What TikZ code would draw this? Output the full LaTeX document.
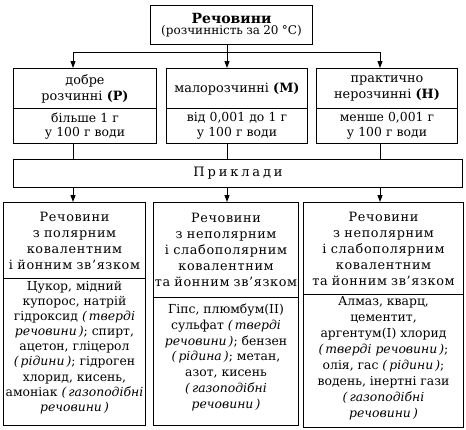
\documentclass[tikz,border=0pt]{standalone}
\usepackage{fontspec}
\setmainfont{DejaVu Serif}
\usetikzlibrary{arrows.meta}
\begin{document}
\begin{tikzpicture}[x=1pt,y=-1pt,
  box/.style={draw, line width=1pt, anchor=north west, inner xsep=1pt, inner ysep=0pt, align=center},
  big/.style={font=\fontsize{12.8}{16}\selectfont},
  head/.style={font=\fontsize{12.8}{16}\selectfont\addfontfeature{LetterSpace=5}},
  small/.style={font=\fontsize{12.4}{14.5}\selectfont},
  body/.style={font=\fontsize{12.4}{#1}\selectfont, align=center, inner sep=0pt, anchor=north},
  link/.style={line width=1pt},
  arr/.style={line width=1pt, -{Triangle[length=7pt,width=5pt]}}
]
\useasboundingbox (0,0) rectangle (466,429);
% top
\node[box, minimum width=162pt, text width=160pt, minimum height=39pt] (top) at (150,5)
  {{\fontsize{14}{16}\selectfont\bfseries Речовини}\\[-1pt]{\fontsize{12}{14}\selectfont (розчинність за 20~°C)}};
% middle row
\node[box, big, minimum width=143pt, text width=141pt, minimum height=40pt] (h1) at (13,68) {добре\\розчинні \textbf{(Р)}};
\node[box, small, minimum width=143pt, text width=141pt, minimum height=35pt] (b1) at (13,108) {більше 1 г\\у 100 г води};
\node[box, big, minimum width=141pt, text width=139pt, minimum height=40pt] (h2) at (166,68) {малорозчинні \textbf{(М)}};
\node[box, small, minimum width=141pt, text width=139pt, minimum height=35pt] (b2) at (166,108) {від 0,001 до 1 г\\у 100 г води};
\node[box, big, minimum width=141pt, text width=139pt, minimum height=40pt] (h3) at (316,68) {практично\\нерозчинні \textbf{(Н)}};
\node[box, small, minimum width=141pt, text width=139pt, minimum height=35pt] (b3) at (316,108) {менше 0,001 г\\у 100 г води};
% examples
\node[box, minimum width=449pt, text width=447pt, minimum height=28pt, font=\fontsize{13}{16}\selectfont\addfontfeature{LetterSpace=22}] (ex) at (13,159)
  {Приклади};
% bottom row
\node[box, head, minimum width=142pt, text width=140pt, minimum height=76pt] (H1) at (3,202)
  {Речовини\\з полярним\\ковалентним\\і йонним зв’язком};
\node[box, minimum width=142pt, text width=140pt, minimum height=147pt] (B1) at (3,278) {};
\node[body=15.1] (T1) at ([yshift=-3pt]B1.north)
  {Цукор, мідний\\купорос, натрій\\гідроксид \textit{(\,тверді}\\\textit{речовини\,)}; спирт,\\ацетон, гліцерол\\\textit{(\,рідини\,)}; гідроген\\хлорид, кисень,\\амоніак \textit{(\,газоподібні}\\\textit{речовини\,)}};
\node[box, head, minimum width=145pt, text width=143pt, minimum height=95pt] (H2) at (153,202)
  {Речовини\\з неполярним\\і слабополярним\\ковалентним\\та йонним зв’язком};
\node[box, minimum width=145pt, text width=143pt, minimum height=128pt] (B2) at (153,297) {};
\node[body=15.7] (T2) at ([yshift=-7pt]B2.north)
  {Гіпс, плюмбум(II)\\сульфат \textit{(\,тверді}\\\textit{речовини\,)}; бензен\\\textit{(\,рідина\,)}; метан,\\азот, кисень\\\textit{(\,газоподібні}\\\textit{речовини\,)}};
\node[box, head, minimum width=160pt, text width=158pt, minimum height=92pt] (H3) at (303,202)
  {Речовини\\з неполярним\\і слабополярним\\ковалентним\\та йонним зв’язком};
\node[box, minimum width=160pt, text width=158pt, minimum height=133pt] (B3) at (303,294) {};
\node[body=16] (T3) at ([yshift=-2pt]B3.north)
  {Алмаз, кварц,\\цементит,\\аргентум(I) хлорид\\\textit{(\,тверді речовини\,)};\\олія, гас \textit{(\,рідини\,)};\\водень, інертні гази\\\textit{(\,газоподібні}\\\textit{речовини\,)}};
% connectors
\coordinate (jc) at (227,52);
\coordinate (jl) at (73,52);
\coordinate (jr) at (380,52);
\draw[link] (top.south -| jc) -- (jc);
\draw[link] (jl) -- (jr);
\draw[arr] (jl) -- (h1.north -| jl);
\draw[arr] (jc) -- (h2.north -| jc);
\draw[arr] (jr) -- (h3.north -| jr);
\draw[link] (b1.south -| jl) -- (ex.north -| jl);
\draw[link] (b2.south -| jc) -- (ex.north -| jc);
\draw[link] (b3.south -| jr) -- (ex.north -| jr);
\draw[arr] (ex.south -| jl) -- (H1.north -| jl);
\draw[arr] (ex.south -| jc) -- (H2.north -| jc);
\draw[arr] (ex.south -| jr) -- (H3.north -| jr);
\end{tikzpicture}
\end{document}
